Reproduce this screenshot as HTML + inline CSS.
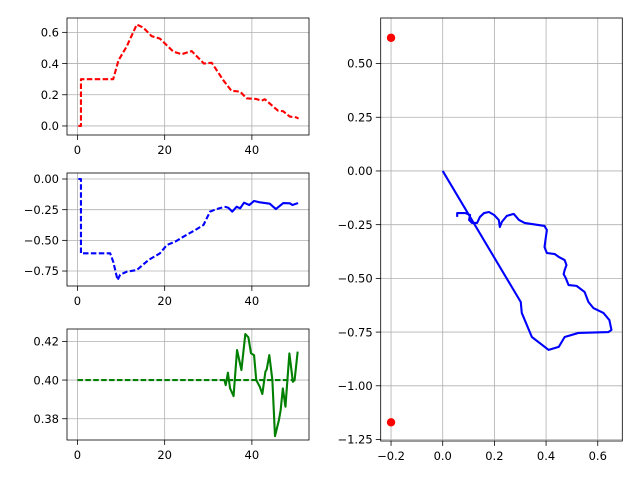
<!DOCTYPE html>
<html><head><meta charset="utf-8"><style>
html,body{margin:0;padding:0;background:#fff}
svg{display:block;font-family:"DejaVu Sans","Liberation Sans",sans-serif}
</style></head><body>
<svg id="fig" width="640" height="480" viewBox="0 0 640 480"></svg>
<script>
// ---- data ----
const redX=[0.2,0.8,0.8,8.2,9.4,11.3,13.6,15.1,17,18.9,22,23.9,26.2,29,30.8,33.4,35.3,37.3,38.8,41,42.2,43,44.5,46,47.2,48.7,50.2,50.7];
const redY=[0,0,0.30,0.30,0.42,0.51,0.65,0.63,0.576,0.56,0.476,0.46,0.48,0.40,0.405,0.295,0.226,0.22,0.177,0.173,0.162,0.171,0.134,0.098,0.094,0.06,0.055,0.047];
const blueDashX=[0.2,0.8,0.8,7.5,8.2,9.2,9.8,11.3,13.6,16.3,18.9,20.5,22.4,24.3,27,28.9,30.4,31.9,33.8];
const blueDashY=[0,0,-0.606,-0.606,-0.674,-0.823,-0.78,-0.755,-0.742,-0.66,-0.606,-0.538,-0.511,-0.47,-0.416,-0.375,-0.266,-0.245,-0.226];
const blueSolidX=[33.8,34.6,35.5,36.5,37.3,38.2,39.4,40.5,41.8,44.1,45.5,47.2,48.7,49.3,50.6];
const blueSolidY=[-0.226,-0.234,-0.266,-0.226,-0.239,-0.193,-0.212,-0.179,-0.19,-0.201,-0.245,-0.196,-0.198,-0.212,-0.196];
const greenFlatX=[0,50];
const greenFlatY=[0.40,0.40];
const greenX=[33.7,34,34.5,35,35.8,36.6,37.6,38.5,39.2,39.8,40.5,41,41.8,42.4,43.1,43.4,44,44.7,45.3,46.2,46.6,47.1,47.7,48.6,49.4,49.8,50.5];
const greenY=[0.40,0.3974,0.4038,0.3957,0.3917,0.4155,0.4052,0.4238,0.4221,0.4138,0.4129,0.40,0.3966,0.3928,0.4043,0.4055,0.4129,0.40,0.371,0.3793,0.3845,0.3957,0.3862,0.4138,0.3991,0.40,0.4147];
const pathX=[0,0.302,0.306,0.345,0.410,0.449,0.472,0.525,0.641,0.653,0.645,0.622,0.583,0.564,0.549,0.518,0.487,0.476,0.468,0.472,0.479,0.472,0.449,0.434,0.403,0.394,0.403,0.394,0.317,0.295,0.275,0.248,0.229,0.221,0.217,0.199,0.179,0.160,0.144,0.133,0.113,0.102,0.106,0.087,0.056,0.056];
const pathY=[0,-0.61,-0.661,-0.773,-0.833,-0.819,-0.773,-0.754,-0.750,-0.740,-0.694,-0.661,-0.638,-0.610,-0.563,-0.535,-0.531,-0.498,-0.480,-0.461,-0.438,-0.415,-0.400,-0.387,-0.382,-0.354,-0.275,-0.256,-0.242,-0.228,-0.200,-0.209,-0.237,-0.261,-0.228,-0.205,-0.191,-0.196,-0.214,-0.242,-0.242,-0.228,-0.205,-0.196,-0.196,-0.214];
const dotX=[-0.2,-0.2];
const dotY=[0.62,-1.17];
const leftXTicks=[0,20,40];
const topYTicks=[0.0,0.2,0.4,0.6];
const midYTicks=[0.00,-0.25,-0.50,-0.75];
const botYTicks=[0.38,0.40,0.42];
const rightXTicks=[-0.2,0.0,0.2,0.4,0.6];
const rightYTicks=[0.50,0.25,0.00,-0.25,-0.50,-0.75,-1.00,-1.25];

const NS="http://www.w3.org/2000/svg";
const fig=document.getElementById('fig');
function mk(tag,attrs,parent){const e=document.createElementNS(NS,tag);for(const k in attrs)e.setAttribute(k,attrs[k]);(parent||fig).appendChild(e);return e;}

function makeAxes(name,box,xlim,ylim,xt,yt,xfmt,yfmt){
  const g=mk('g',{});
  
  
  const [x0,y0,x1,y1]=box;
  const sx=v=>x0+(v-xlim[0])/(xlim[1]-xlim[0])*(x1-x0);
  const sy=v=>y1-(v-ylim[0])/(ylim[1]-ylim[0])*(y1-y0);
  xt.forEach(t=>{const X=sx(t);
    const l=mk('line',{x1:X,x2:X,y1:y0,y2:y1,stroke:'#b0b0b0','stroke-width':0.8},g);
    
    mk('line',{x1:X,x2:X,y1:y1,y2:y1+4.9,stroke:'#000','stroke-width':0.8},g);
    const tx=mk('text',{x:X,y:y1+19,'font-size':'11.5','text-anchor':'middle',fill:'#000'},g);
    tx.textContent=xfmt(t);
    });
  yt.forEach(t=>{const Y=sy(t);
    const l=mk('line',{x1:x0,x2:x1,y1:Y,y2:Y,stroke:'#b0b0b0','stroke-width':0.8},g);
    
    mk('line',{x1:x0-4.9,x2:x0,y1:Y,y2:Y,stroke:'#000','stroke-width':0.8},g);
    const tx=mk('text',{x:x0-8,y:Y+4.2,'font-size':'11.5','text-anchor':'end',fill:'#000'},g);
    tx.textContent=yfmt(t);
    });
  const clipId='c'+name;
  const cp=mk('clipPath',{id:clipId},g);mk('rect',{x:x0,y:y0,width:x1-x0,height:y1-y0},cp);
  const plot=mk('g',{'clip-path':'url(#'+clipId+')'},g);
  return {g,plot,sx,sy,box};
}
function frame(ax){const [x0,y0,x1,y1]=ax.box;
  const r=mk('rect',{x:x0,y:y0,width:x1-x0,height:y1-y0,fill:'none',stroke:'#000','stroke-width':0.8},ax.g);
  }
function line(ax,xs,ys,color,dash,name){
  const d=xs.map((x,i)=>(i?'L':'M')+ax.sx(x).toFixed(2)+','+ax.sy(ys[i]).toFixed(2)).join('');
  const p=mk('path',{d,fill:'none',stroke:color,'stroke-width':2.1,'stroke-linejoin':'round'},ax.plot);
  if(dash)p.setAttribute('stroke-dasharray','5.5,2.4');
  
  
}
const f1=v=>v.toFixed(1), f2=v=>v.toFixed(2).replace('-','−'), f0=v=>String(v);
const fm=v=>v.toFixed(2).replace('-','−');
const ax1=makeAxes('top-left-axes',[67,18,309,135],[-2.4,53.1],[-0.058,0.692],leftXTicks,topYTicks,f0,f1);
line(ax1,redX,redY,'#ff0000',true,'red-series');frame(ax1);
const ax2=makeAxes('middle-left-axes',[67,173,309,286],[-2.4,53.1],[-0.872,0.049],leftXTicks,midYTicks,f0,fm);
line(ax2,blueDashX,blueDashY,'#0000ff',true,'blue-dashed-series');
line(ax2,blueSolidX,blueSolidY,'#0000ff',false,'blue-solid-series');frame(ax2);
const ax3=makeAxes('bottom-left-axes',[67,329,309,440],[-2.4,53.1],[0.3690,0.4264],leftXTicks,botYTicks,f0,f2);
line(ax3,greenFlatX,greenFlatY,'#008000',true,'green-dashed-series');
line(ax3,greenX,greenY,'#008000',false,'green-solid-series');frame(ax3);
const ax4=makeAxes('right-axes',[380.7,18,622.3,441],[-0.240,0.695],[-1.257,0.712],rightXTicks,rightYTicks,v=>v.toFixed(1).replace('-','−'),fm);
line(ax4,pathX,pathY,'#0000ff',false,'trajectory-path');
dotX.forEach((x,i)=>{const c=mk('circle',{cx:ax4.sx(x),cy:ax4.sy(dotY[i]),r:4.2,fill:'#ff0000'},ax4.plot);
  
  });
frame(ax4);
</script>
</body></html>
